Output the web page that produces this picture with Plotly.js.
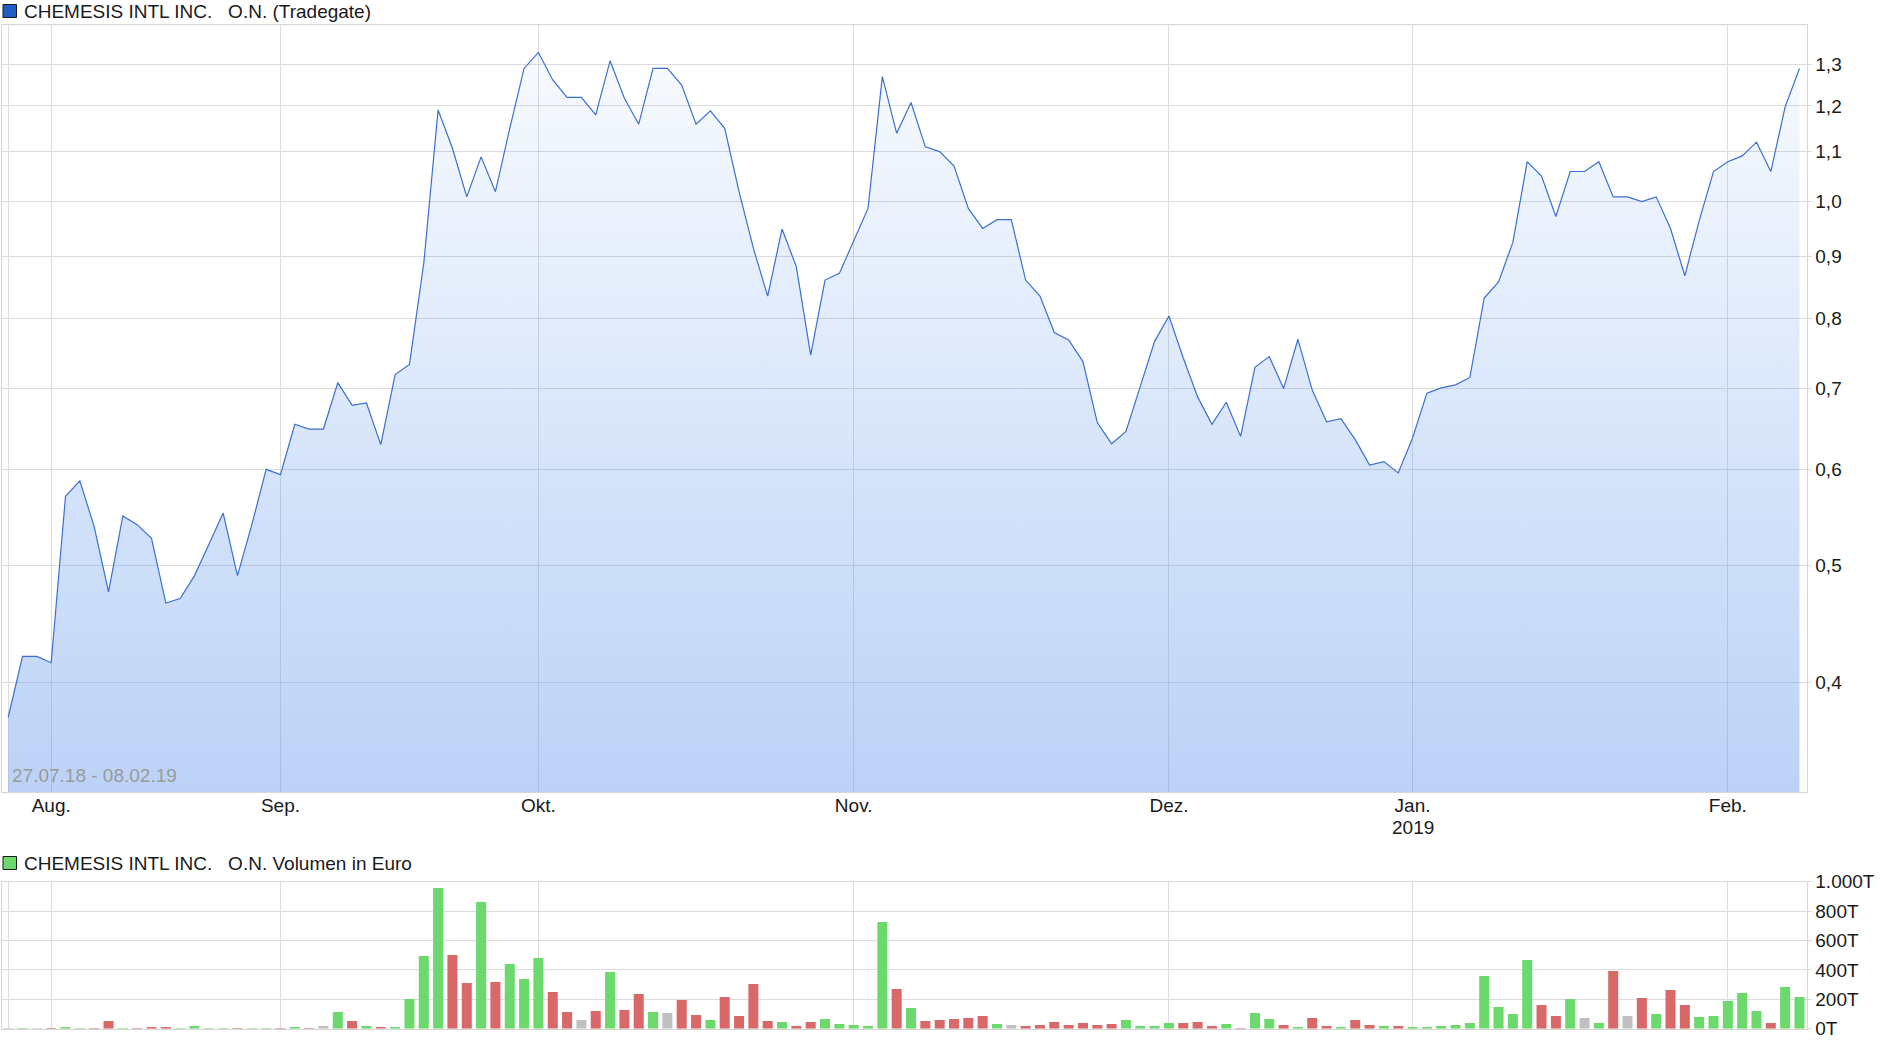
<!DOCTYPE html>
<html>
<head>
<meta charset="utf-8">
<script src="https://cdn.plot.ly/plotly-3.0.1.min.js"></script>
<style>
  html, body { margin: 0; padding: 0; background: #ffffff; }
  #chart { width: 1880px; height: 1049px; }
</style>
</head>
<body>
<div id="chart"></div>
<script>
// ---------- data (27.07.18 - 08.02.19, one entry per trading day with data) ----------
const price = [
  0.374, 0.420, 0.420, 0.415, 0.570, 0.587, 0.538, 0.475, 0.549, 0.540,
  0.526, 0.465, 0.469, 0.490, 0.520, 0.552, 0.490, 0.540, 0.600, 0.594,
  0.654, 0.648, 0.648, 0.708, 0.678, 0.681, 0.629, 0.719, 0.733, 0.889,
  1.191, 1.107, 1.009, 1.089, 1.019, 1.150, 1.289, 1.329, 1.261, 1.220,
  1.220, 1.180, 1.308, 1.218, 1.159, 1.289, 1.289, 1.249, 1.159, 1.189,
  1.150, 1.019, 0.915, 0.835, 0.949, 0.883, 0.746, 0.861, 0.872, 0.929,
  0.987, 1.269, 1.139, 1.208, 1.110, 1.100, 1.070, 0.987, 0.950, 0.966,
  0.966, 0.861, 0.835, 0.779, 0.768, 0.737, 0.656, 0.630, 0.645, 0.703,
  0.766, 0.804, 0.742, 0.689, 0.654, 0.682, 0.639, 0.729, 0.744, 0.700,
  0.769, 0.698, 0.657, 0.661, 0.635, 0.605, 0.609, 0.596, 0.637, 0.694,
  0.701, 0.705, 0.715, 0.832, 0.858, 0.925, 1.079, 1.050, 0.972, 1.059,
  1.059, 1.079, 1.009, 1.009, 1.000, 1.009, 0.950, 0.868, 0.964, 1.059,
  1.079, 1.091, 1.120, 1.059, 1.198, 1.289
];

// volume in thousand euro (T)
const volume = [
  5, 5, 5, 5, 11, 5, 5, 52, 5, 5,
  11, 11, 5, 18, 5, 5, 5, 5, 5, 5,
  11, 5, 18, 113, 52, 18, 11, 11, 202, 494,
  957, 501, 311, 862, 317, 440, 338, 481, 249, 113,
  59, 120, 385, 127, 236, 113, 107, 195, 93, 59,
  215, 86, 304, 52, 45, 18, 45, 66, 32, 25,
  18, 726, 270, 141, 52, 59, 66, 73, 86, 32,
  25, 18, 25, 45, 25, 39, 25, 32, 59, 18,
  18, 39, 39, 45, 18, 32, 5, 107, 66, 25,
  11, 73, 18, 11, 59, 25, 18, 18, 11, 11,
  18, 25, 39, 358, 147, 100, 467, 161, 86, 202,
  73, 39, 392, 86, 209, 100, 263, 161, 79, 86,
  188, 243, 120, 39, 283, 215
];

// day direction: u = up, d = down, n = unchanged
const direction = [
  'n','u','n','d','u','u','d','d','u','d',
  'd','d','u','u','u','u','d','u','u','d',
  'u','d','n','u','d','u','d','u','u','u',
  'u','d','d','u','d','u','u','u','d','d',
  'n','d','u','d','d','u','n','d','d','u',
  'd','d','d','d','u','d','d','u','u','u',
  'u','u','d','u','d','d','d','d','d','u',
  'n','d','d','d','d','d','d','d','u','u',
  'u','u','d','d','d','u','d','u','u','d',
  'u','d','d','u','d','d','u','d','u','u',
  'u','u','u','u','u','u','u','d','d','u',
  'n','u','d','n','d','u','d','d','u','u',
  'u','u','u','d','u','u'
];

// month ticks (position = index of first trading day of the month)
const monthTickPos = [0, 3, 19, 37, 59, 81, 98, 120];
const monthTickText = ['', 'Aug.', 'Sep.', 'Okt.', 'Nov.', 'Dez.', 'Jan.', 'Feb.'];
const yearLabelPos = 98;
const yearLabel = '2019';

const priceTicks = [0.4, 0.5, 0.6, 0.7, 0.8, 0.9, 1.0, 1.1, 1.2, 1.3];
const priceTickText = ['0,4', '0,5', '0,6', '0,7', '0,8', '0,9', '1,0', '1,1', '1,2', '1,3'];

const volTicks = [0, 200, 400, 600, 800, 1000];
const volTickText = ['0T', '200T', '400T', '600T', '800T', '1.000T'];

const seriesName = 'CHEMESIS INTL INC.   O.N. (Tradegate)';
const volName = 'CHEMESIS INTL INC.   O.N. Volumen in Euro';
const periodText = '27.07.18 - 08.02.19';

// ---------- styles ----------
const dayIdx = price.map((_, i) => i);
const dirColor = { u: '#6bd96b', d: '#d96868', n: '#c0c0c0' };
const FONT = 'Liberation Sans, Arial, sans-serif';
const FS = 19;
const GRID = '#dcdcdc';
const W = 1880, H = 1049;
const px = v => v / W;
const py = v => 1 - v / H;

const yLow = 0.3243, yHigh = 1.4004;
const xr = [-0.405, 125.49];

const traces = [
  {
    x: dayIdx, y: price, type: 'scatter', mode: 'lines',
    xaxis: 'x', yaxis: 'y',
    line: { color: '#3a6fd1', width: 1.2 },
    fill: 'tozeroy',
    fillcolor: 'rgba(85,143,233,0.25)',
    fillgradient: {
      type: 'vertical',
      start: yLow, stop: yHigh,
      colorscale: [[0, 'rgba(85,143,233,0.40)'], [1, 'rgba(85,143,233,0.03)']]
    },
    hoverinfo: 'skip', showlegend: false
  },
  {
    x: dayIdx, y: volume, type: 'bar',
    xaxis: 'x2', yaxis: 'y2',
    marker: { color: direction.map(d => dirColor[d]), line: { width: 0 } },
    hoverinfo: 'skip', showlegend: false
  }
];

const axisFont = { family: FONT, size: FS, color: '#1a1a1a' };

const layout = {
  width: W, height: H,
  margin: { l: 0, r: 0, t: 0, b: 0 },
  paper_bgcolor: '#ffffff', plot_bgcolor: '#ffffff',
  separators: ',.',
  bargap: 0.3,
  xaxis: {
    domain: [px(2.4), px(1806.5)], range: xr, anchor: 'y',
    tickmode: 'array', tickvals: monthTickPos, ticktext: monthTickText,
    showgrid: true, gridcolor: GRID, gridwidth: 1, zeroline: false,
    showline: true, linecolor: '#d6d6d6', mirror: true,
    ticks: '', ticklabelstandoff: -4, tickfont: axisFont, fixedrange: true
  },
  yaxis: {
    domain: [py(792), py(25)], type: 'log',
    range: [Math.log10(yLow), Math.log10(yHigh)], anchor: 'x',
    side: 'right', tickmode: 'array', tickvals: priceTicks, ticktext: priceTickText,
    showgrid: true, gridcolor: GRID, gridwidth: 1, zeroline: false,
    showline: true, linecolor: '#d6d6d6', mirror: true,
    ticks: 'outside', ticklen: 4, tickcolor: GRID,
    tickfont: axisFont, fixedrange: true
  },
  xaxis2: {
    domain: [px(2.4), px(1806.5)], range: xr, anchor: 'y2',
    tickmode: 'array', tickvals: monthTickPos, showticklabels: false,
    showgrid: true, gridcolor: GRID, gridwidth: 1, zeroline: false,
    showline: true, linecolor: '#d6d6d6', mirror: true,
    ticks: '', fixedrange: true
  },
  yaxis2: {
    domain: [py(1028.7), py(881.7)], range: [0, 1000], anchor: 'x2',
    side: 'right', tickmode: 'array', tickvals: volTicks, ticktext: volTickText,
    showgrid: true, gridcolor: GRID, gridwidth: 1, zeroline: false,
    showline: true, linecolor: '#d6d6d6', mirror: true,
    ticks: 'outside', ticklen: 4, tickcolor: GRID,
    tickfont: axisFont, fixedrange: true
  },
  shapes: [
    { type: 'rect', xref: 'paper', yref: 'paper',
      x0: px(3), x1: px(16.5), y0: py(17.5), y1: py(4.5),
      fillcolor: '#1f5cc4', line: { color: '#1a1a1a', width: 1 } },
    { type: 'rect', xref: 'paper', yref: 'paper',
      x0: px(3), x1: px(16.5), y0: py(869.5), y1: py(856.5),
      fillcolor: '#6bd96b', line: { color: '#1a1a1a', width: 1 } }
  ],
  annotations: [
    { xref: 'paper', yref: 'paper', x: px(22), y: py(11.5), xanchor: 'left', yanchor: 'middle',
      text: seriesName, showarrow: false, font: { family: FONT, size: FS, color: '#1a1a1a' } },
    { xref: 'paper', yref: 'paper', x: px(22), y: py(863.5), xanchor: 'left', yanchor: 'middle',
      text: volName, showarrow: false, font: { family: FONT, size: FS, color: '#1a1a1a' } },
    { xref: 'paper', yref: 'paper', x: px(10), y: py(775), xanchor: 'left', yanchor: 'middle',
      text: periodText, showarrow: false, font: { family: FONT, size: FS, color: '#9a9a9a' } },
    { xref: 'x', yref: 'paper', x: yearLabelPos, y: py(827.5), xanchor: 'center', yanchor: 'middle',
      text: yearLabel, showarrow: false, font: axisFont }
  ]
};

Plotly.newPlot('chart', traces, layout, { staticPlot: true, displayModeBar: false });
</script>
</body>
</html>
